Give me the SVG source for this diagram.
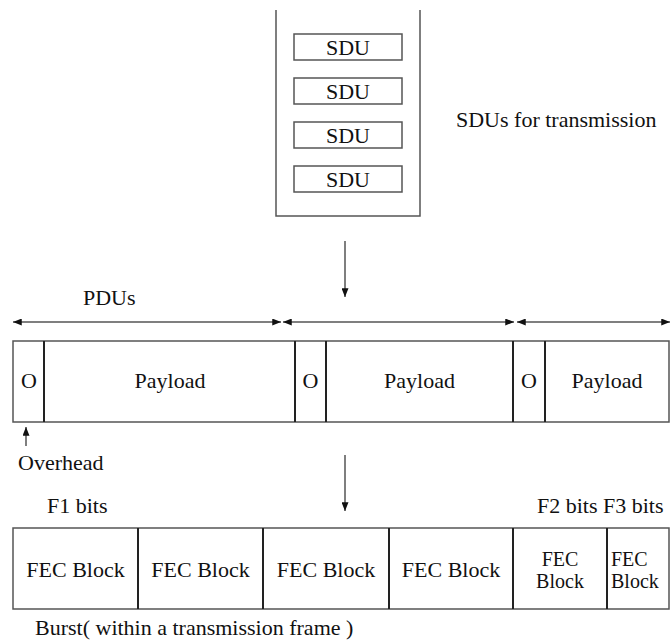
<svg xmlns="http://www.w3.org/2000/svg" width="670" height="643" viewBox="0 0 670 643">
<defs>
<marker id="ah" viewBox="0 0 10 8" refX="10" refY="4" markerWidth="9" markerHeight="7" markerUnits="userSpaceOnUse" orient="auto-start-reverse">
<path d="M0,0 L10,4 L0,8 z" fill="#111"/>
</marker>
</defs>
<g id="container" stroke="#555" stroke-width="1.5" fill="none">
<path d="M276,10 V216 H420 V10"/>
</g>
<g id="sdu1"><rect fill="#fff" stroke="#555" stroke-width="1.5" x="294" y="34" width="108" height="26"/><text font-family="Liberation Serif" font-size="22" fill="#111" text-anchor="middle" x="348" y="55">SDU</text></g>
<g id="sdu2"><rect fill="#fff" stroke="#555" stroke-width="1.5" x="294" y="78" width="108" height="26"/><text font-family="Liberation Serif" font-size="22" fill="#111" text-anchor="middle" x="348" y="99">SDU</text></g>
<g id="sdu3"><rect fill="#fff" stroke="#555" stroke-width="1.5" x="294" y="122" width="108" height="26"/><text font-family="Liberation Serif" font-size="22" fill="#111" text-anchor="middle" x="348" y="143">SDU</text></g>
<g id="sdu4"><rect fill="#fff" stroke="#555" stroke-width="1.5" x="294" y="166" width="108" height="26"/><text font-family="Liberation Serif" font-size="22" fill="#111" text-anchor="middle" x="348" y="187">SDU</text></g>
<g id="sdu-label"><text font-family="Liberation Serif" font-size="22" fill="#111" x="456" y="127">SDUs for transmission</text></g>
<g id="pdu-label"><text font-family="Liberation Serif" font-size="22" fill="#111" x="83" y="305">PDUs</text></g>
<g id="pdu-row">
<rect fill="#fff" stroke="#555" stroke-width="1.5" x="13" y="341" width="656" height="81"/>
<g stroke="#222" stroke-width="2">
<line x1="44" y1="341" x2="44" y2="422"/>
<line x1="295" y1="341" x2="295" y2="422"/>
<line x1="326" y1="341" x2="326" y2="422"/>
<line x1="513" y1="341" x2="513" y2="422"/>
<line x1="545" y1="341" x2="545" y2="422"/>
</g>
<text font-family="Liberation Serif" font-size="22" fill="#111" text-anchor="middle" x="29" y="388">O</text>
<text font-family="Liberation Serif" font-size="22" fill="#111" text-anchor="middle" x="170" y="388">Payload</text>
<text font-family="Liberation Serif" font-size="22" fill="#111" text-anchor="middle" x="310.5" y="388">O</text>
<text font-family="Liberation Serif" font-size="22" fill="#111" text-anchor="middle" x="419.5" y="388">Payload</text>
<text font-family="Liberation Serif" font-size="22" fill="#111" text-anchor="middle" x="529" y="388">O</text>
<text font-family="Liberation Serif" font-size="22" fill="#111" text-anchor="middle" x="607" y="388">Payload</text>
</g>
<g id="overhead-label"><text font-family="Liberation Serif" font-size="22" fill="#111" x="18" y="470">Overhead</text></g>
<g id="f1-label"><text font-family="Liberation Serif" font-size="22" fill="#111" x="47" y="513">F1 bits</text></g>
<g id="f23-label"><text font-family="Liberation Serif" font-size="22" fill="#111" x="537" y="513">F2 bits F3 bits</text></g>
<g id="fec-row">
<rect fill="#fff" stroke="#555" stroke-width="1.5" x="13" y="528" width="656" height="81"/>
<g stroke="#222" stroke-width="2">
<line x1="138" y1="528" x2="138" y2="609"/>
<line x1="263" y1="528" x2="263" y2="609"/>
<line x1="389" y1="528" x2="389" y2="609"/>
<line x1="513" y1="528" x2="513" y2="609"/>
<line x1="607" y1="528" x2="607" y2="609"/>
</g>
<text font-family="Liberation Serif" font-size="22" fill="#111" text-anchor="middle" x="75.5" y="577">FEC Block</text>
<text font-family="Liberation Serif" font-size="22" fill="#111" text-anchor="middle" x="200.5" y="577">FEC Block</text>
<text font-family="Liberation Serif" font-size="22" fill="#111" text-anchor="middle" x="326" y="577">FEC Block</text>
<text font-family="Liberation Serif" font-size="22" fill="#111" text-anchor="middle" x="451" y="577">FEC Block</text>
<text font-family="Liberation Serif" font-size="20" fill="#111" text-anchor="middle" x="560" y="566">FEC</text>
<text font-family="Liberation Serif" font-size="20" fill="#111" text-anchor="middle" x="560" y="588">Block</text>
<text font-family="Liberation Serif" font-size="20" fill="#111" x="611" y="566">FEC</text>
<text font-family="Liberation Serif" font-size="20" fill="#111" x="611" y="588">Block</text>
</g>
<g id="burst-label"><text font-family="Liberation Serif" font-size="22" fill="#111" x="35" y="635">Burst( within a transmission frame )</text></g>
<g id="connectors" stroke="#555" stroke-width="1.5" fill="none">
<line x1="345" y1="241" x2="345" y2="297" marker-end="url(#ah)"/>
<line x1="13" y1="322" x2="281" y2="322" marker-start="url(#ah)" marker-end="url(#ah)"/>
<line x1="283" y1="322" x2="514" y2="322" marker-start="url(#ah)" marker-end="url(#ah)"/>
<line x1="517" y1="322" x2="670" y2="322" marker-start="url(#ah)" marker-end="url(#ah)"/>
<line x1="26" y1="446" x2="26" y2="427" marker-end="url(#ah)"/>
<line x1="345" y1="455" x2="345" y2="511" marker-end="url(#ah)"/>
</g>
</svg>
